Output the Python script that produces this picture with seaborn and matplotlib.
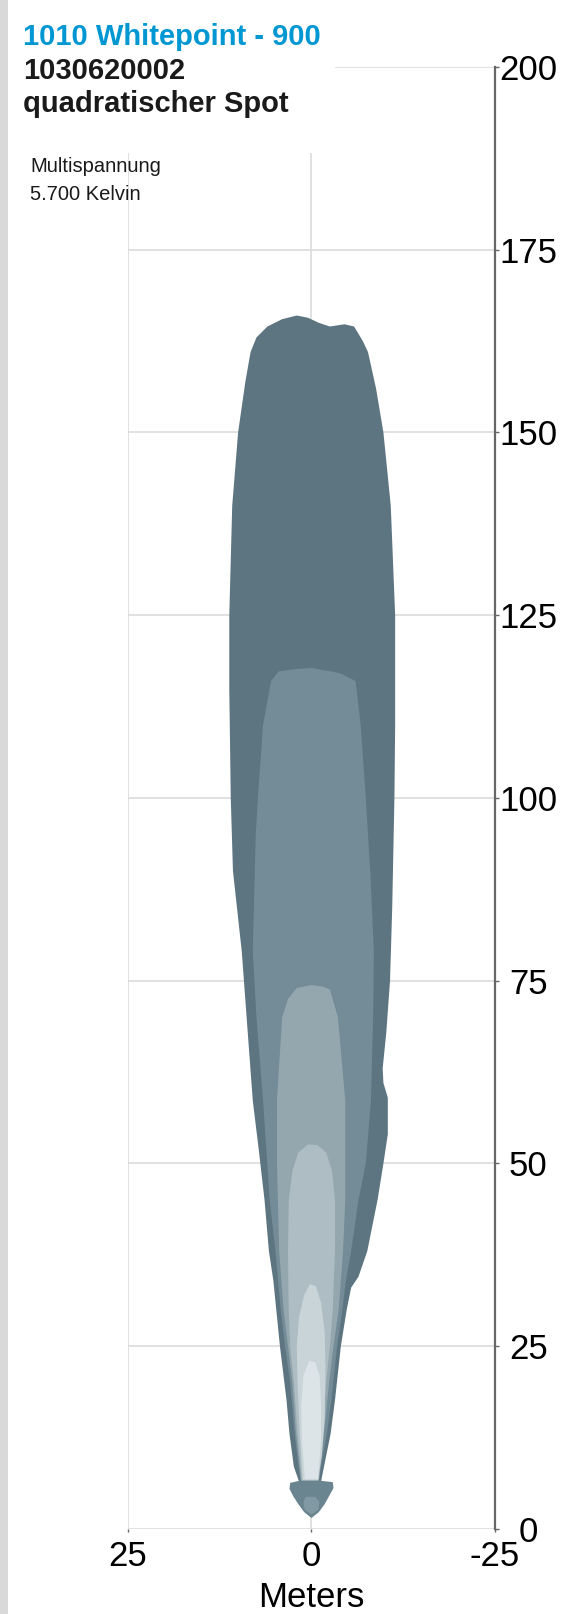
import numpy as np
import matplotlib
matplotlib.use("Agg")
from matplotlib import pyplot as plt
from matplotlib.patches import Rectangle
import seaborn as sns

# Isolux zones: outline as (lateral m, distance m), left side up then right side down
zone1_x = [1.7, 2.4, 3.0, 3.4, 4.3, 5.2, 5.8, 6.4, 7.2, 8.0, 9.5, 10.7, 11.0, 11.2, 11.2, 10.8, 10.0, 9.0,
           8.3, 7.5, 6.0, 4.0, 2.0, 0.5, -1.0, -2.5, -4.5, -5.8, -7.0, -7.7, -8.8, -9.8, -10.8, -11.4,
           -11.4, -11.3, -11.0, -10.7, -10.2, -9.7, -9.8, -10.4, -10.4, -9.8, -9.0, -7.6, -6.4, -5.4,
           -4.8, -4.0, -3.2, -2.6, -1.7, -1.3]
zone1_y = [6.5, 8.5, 13, 17.6, 25, 34, 38, 45, 52, 58.6, 79, 90, 100, 115, 125, 140, 150, 157,
           161, 163, 164.5, 165.5, 166, 165.7, 165, 164.5, 164.8, 164.5, 162.5, 161, 156, 150, 140, 125,
           110, 100, 85, 75, 68, 63, 61, 59, 54, 50, 45, 38, 34.5, 33,
           30, 25, 17.6, 13, 8.5, 6.5]

zone2_x = [1.5, 2.3, 2.9, 3.6, 4.2, 4.9, 5.7, 6.6, 7.5, 8.0, 7.6, 7.3, 6.6, 5.5, 4.5, 2.5, 0.0, -1.5,
           -2.8, -4.0, -6.0, -6.7, -7.4, -8.0, -8.5, -8.4, -8.1, -7.4, -6.4, -5.4, -4.7, -4.2, -3.5,
           -2.7, -2.1, -1.3, -1.0]
zone2_y = [6.5, 13, 20, 25, 30, 38, 45, 58.6, 70, 79, 95, 100, 110, 116, 117.3, 117.6, 117.8, 117.5,
           117.3, 117, 116, 110, 100, 90, 79, 70, 58.6, 50, 45, 38, 34, 30, 25,
           17.6, 13, 8.5, 6.5]

zone3_x = [1.4, 2.1, 2.6, 3.2, 3.8, 4.4, 4.7, 4.7, 4.0, 3.2, 2.0, 0.0, -1.5, -2.5, -3.6, -4.6, -4.6,
           -4.3, -3.7, -3.0, -2.4, -1.7, -1.0]
zone3_y = [6.5, 13, 20, 25, 30, 38, 50, 58.6, 70, 72.5, 74, 74.4, 74.2, 73.8, 70, 58.6, 45,
           38, 30, 25, 20, 13, 6.5]

zone4_x = [1.3, 1.9, 2.4, 2.9, 3.1, 3.2, 3.1, 2.6, 1.8, 0.5, -0.8, -2.0, -2.8, -3.2, -3.2, -2.9, -2.5,
           -2.0, -1.5, -0.9]
zone4_y = [6.5, 13, 20, 25, 30, 38, 45, 49, 51.5, 52.6, 52.5, 51.5, 49, 45, 38, 30, 25,
           20, 13, 6.5]

zone5_x = [1.2, 1.6, 1.9, 2.0, 1.7, 1.0, 0.2, -0.6, -1.3, -1.8, -1.9, -1.8, -1.4, -0.9]
zone5_y = [6.7, 13, 20, 25, 29, 32, 33.5, 33.2, 31, 27, 22, 15, 10, 6.7]

zone6_x = [0.9, 1.3, 1.4, 1.1, 0.3, -0.5, -1.1, -1.3, -1.3, -0.9]
zone6_y = [6.8, 12, 17, 21, 23, 22.8, 21, 17, 12, 6.8]

# near-field blob below the beam
blob_x = [0.0, 1.0, 1.8, 2.5, 3.0, 2.9, 1.6, -1.2, -2.9, -3.0, -2.4, -1.8, -1.0]
blob_y = [1.5, 2.3, 3.4, 4.5, 5.5, 6.3, 6.6, 6.6, 6.4, 5.6, 4.5, 3.4, 2.3]
blob_in_x = [0.0, 0.9, 1.1, 0.8, -0.5, -1.1, -0.9]
blob_in_y = [2.0, 2.6, 3.6, 4.4, 4.4, 3.7, 2.6]

zones = [(zone1_x, zone1_y, "#5d7580"),
         (zone2_x, zone2_y, "#748c97"),
         (zone3_x, zone3_y, "#95a7ae"),
         (zone4_x, zone4_y, "#adbdc3"),
         (zone5_x, zone5_y, "#c8d4d8"),
         (zone6_x, zone6_y, "#dce4e7"),
         (blob_x, blob_y, "#6a8490"),
         (blob_in_x, blob_in_y, "#8199a3")]

x_ticks = [25, 0, -25]
x_labels = ["25", "0", "-25"]
y_ticks = [0, 25, 50, 75, 100, 125, 150, 175, 200]

# Plot
sns.set_theme(style="whitegrid")
plt.rcParams["font.family"] = ["Liberation Sans", "DejaVu Sans"]
plt.rcParams["axes.unicode_minus"] = False

fig = plt.figure(figsize=(5.8, 16.14), dpi=100)
ax = fig.add_axes([0.2207, 0.0527, 0.6327, 0.9058])

for zx, zy, col in zones:
    ax.fill(zx, zy, color=col, lw=0, zorder=2)

ax.set_xlim(25, -25)
ax.set_ylim(0, 200)
ax.set_xticks(x_ticks)
ax.set_xticklabels(x_labels)
ax.set_yticks(y_ticks)
ax.yaxis.tick_right()
ax.grid(True, color="#dcdcdc", lw=1.2)
ax.set_axisbelow(True)

for s in ["left", "top", "bottom"]:
    ax.spines[s].set_visible(False)
ax.spines["right"].set_color("#666666")
ax.spines["right"].set_linewidth(1.6)

ax.tick_params(axis="y", right=True, length=3, width=1, color="#666666", labelsize=25, pad=21, labelcolor="black")
ax.tick_params(axis="x", bottom=True, length=2, width=1, color="#666666", labelsize=25, pad=6, labelcolor="black")
for lab in ax.get_yticklabels():
    lab.set_horizontalalignment("center")
ax.set_xlabel("Meters", fontsize=25, labelpad=6, color="black")
ax.set_ylabel("")

# white box behind the header, gray stripe on the left
fig.patches.append(Rectangle((8 / 580, 1 - 153 / 1614), (335 - 8) / 580, 153 / 1614,
                             transform=fig.transFigure, facecolor="white", edgecolor="none", zorder=1))
fig.patches.append(Rectangle((0, 0), 8 / 580, 1, transform=fig.transFigure,
                             facecolor="#d9d9d9", edgecolor="none", zorder=1))

fig.text(23 / 580, 1 - 37 / 1614, "1010 Whitepoint - 900", color="#0097d3", fontsize=21,
         fontweight="bold", va="center", ha="left", zorder=3)
fig.text(23 / 580, 1 - 71 / 1614, "1030620002", color="#1a1a1a", fontsize=21,
         fontweight="bold", va="center", ha="left", zorder=3)
fig.text(23 / 580, 1 - 104 / 1614, "quadratischer Spot", color="#1a1a1a", fontsize=21,
         fontweight="bold", va="center", ha="left", zorder=3)
fig.text(30 / 580, 1 - 167 / 1614, "Multispannung", color="#1a1a1a", fontsize=14.5,
         va="center", ha="left", zorder=3)
fig.text(30 / 580, 1 - 194 / 1614, "5.700 Kelvin", color="#1a1a1a", fontsize=14.5,
         va="center", ha="left", zorder=3)

plt.savefig("out.png", dpi=100)
